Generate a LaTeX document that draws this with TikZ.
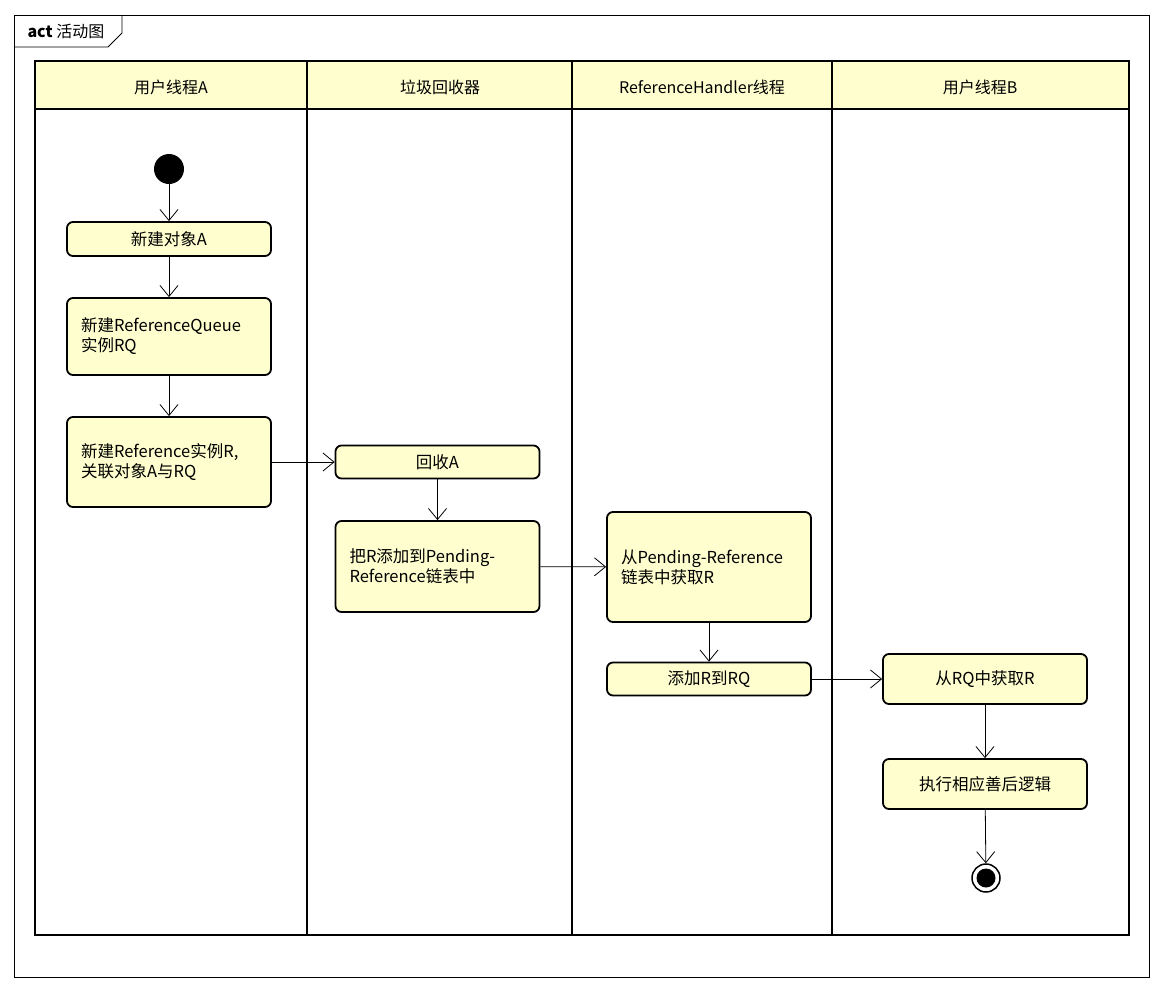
\documentclass[tikz,border=0pt]{standalone}
\usepackage{fontspec}
\setmainfont{Noto Sans CJK SC}
\usetikzlibrary{arrows.meta}
\definecolor{laneFill}{RGB}{254,254,206}

\tikzset{
  action/.style={draw, rounded corners=6pt, line width=1.8pt, fill=laneFill,
    minimum width=204pt, inner sep=0pt, font=\fontsize{16.5}{20}\selectfont},
  actionL/.style={action, text width=176pt, align=left, inner xsep=14pt},
  flow/.style={-{Straight Barb[length=11pt,width=18pt]}, line width=0.8pt},
  lanehead/.style={font=\fontsize{16}{20}\selectfont},
}

\begin{document}
\begin{tikzpicture}[x=1pt,y=-1pt]
  \useasboundingbox (0,0) rectangle (1163,991);

  % Outer frame and its tab
  \draw[line width=0.8pt] (14,15) rectangle (1149,977);
  \draw[line width=0.8pt] (14,47) -- (108,47) -- (122,33) -- (122,15);
  \node[lanehead, anchor=west] (tab) at (24,31) {\textbf{act} 活动图};

  % Swimlanes
  \fill[laneFill] (35,61) rectangle (1129,109);
  \draw[line width=2.5pt] (35,61) rectangle (1129,935);
  \draw[line width=2.5pt] (35,109) -- (1129,109);
  \foreach \x in {307,572,832}
    \draw[line width=2.5pt] (\x,61) -- (\x,935);

  % Lane titles
  \node[lanehead] (laneA) at (171,87) {用户线程A};
  \node[lanehead] (laneGC) at (440,87) {垃圾回收器};
  \node[lanehead] (laneRH) at (702,87) {ReferenceHandler线程};
  \node[lanehead] (laneB) at (980,87) {用户线程B};

  % Start and end states
  \node[circle, fill=black, minimum size=30pt, inner sep=0pt] (start) at (169,169) {};
  \node[circle, draw, line width=1.5pt, minimum size=28pt, inner sep=0pt,
    path picture={\fill (path picture bounding box.center) circle (9.5pt);}] (stop) at (986,878) {};

  % Actions
  \node[action, minimum height=34pt] (newA) at (169,239) {新建对象A};
  \node[actionL, minimum height=77pt] (newRQ) at (169,336.5) {新建ReferenceQueue\\实例RQ};
  \node[actionL, minimum height=90pt] (newR) at (169,462) {新建Reference实例R,\\关联对象A与RQ};
  \node[action, minimum height=33pt] (collect) at (437.5,462) {回收A};
  \node[actionL, minimum height=91pt] (pending) at (437.5,566.5) {把R添加到Pending-\\Reference链表中};
  \node[actionL, minimum height=110pt] (fetch) at (709,567) {从Pending-Reference\\链表中获取R};
  \node[action, minimum height=33pt] (enqueue) at (709,679) {添加R到RQ};
  \node[action, minimum height=50pt] (poll) at (985,679) {从RQ中获取R};
  \node[action, minimum height=50pt] (cleanup) at (985,784) {执行相应善后逻辑};

  % Control flow
  \draw[flow] (start) -- (newA);
  \draw[flow] (newA) -- (newRQ);
  \draw[flow] (newRQ) -- (newR);
  \draw[flow] (newR) -- (collect);
  \draw[flow] (collect) -- (pending);
  \draw[flow] (pending) -- (fetch);
  \draw[flow] (fetch) -- (enqueue);
  \draw[flow] (enqueue) -- (poll);
  \draw[flow] (poll) -- (cleanup);
  \draw[flow] (cleanup) -- (stop);

\end{tikzpicture}
\end{document}
